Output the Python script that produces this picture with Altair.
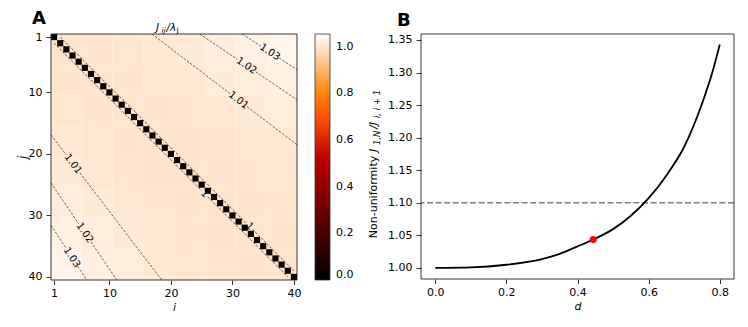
import altair as alt
import pandas as pd

FONT = "DejaVu Sans"

# ---------------- Panel A : J_ij / lambda_J ----------------
IJ_TICKS = [1, 10, 20, 30, 40]
BLOCK_SIZE = 5
# values read as 5x5-site blocks (rows: j-blocks top->bottom, cols: i-blocks left->right)
BLOCK_VALUES = [
    [1.0003, 1.0010, 1.0037, 1.0080, 1.0133, 1.0195, 1.0263, 1.0337],
    [1.0010, 1.0003, 1.0009, 1.0033, 1.0069, 1.0116, 1.0170, 1.0230],
    [1.0037, 1.0009, 1.0003, 1.0007, 1.0028, 1.0060, 1.0101, 1.0148],
    [1.0080, 1.0033, 1.0007, 1.0003, 1.0007, 1.0025, 1.0053, 1.0088],
    [1.0133, 1.0069, 1.0028, 1.0007, 1.0003, 1.0006, 1.0022, 1.0046],
    [1.0195, 1.0116, 1.0060, 1.0025, 1.0006, 1.0003, 1.0005, 1.0019],
    [1.0263, 1.0170, 1.0101, 1.0053, 1.0022, 1.0005, 1.0003, 1.0004],
    [1.0337, 1.0230, 1.0148, 1.0088, 1.0046, 1.0019, 1.0004, 1.0003],
]
DIAG_SITES = list(range(1, 41))
DIAG_VALUE = 0.0
COLOR_MAX = 1.054
CBAR_TICKS = [0.0, 0.2, 0.4, 0.6, 0.8, 1.0]

# contour polylines: (segment id, [(i, j), ...])
CONTOUR_SEGMENTS = [
    ("d_up_a", [(2, 1), (32.3, 31.3)]),
    ("d_up_b", [(33.3, 32.3), (40, 39)]),
    ("d_lo_a", [(1, 2), (25, 26)]),
    ("d_lo_b", [(26, 27), (39, 40)]),
    ("u101a", [(16.9, 0.5), (29.6, 10.19)]),
    ("u101b", [(32.4, 12.33), (40.5, 18.5)]),
    ("u102a", [(24.7, 0.5), (30.8, 4.63)]),
    ("u102b", [(33.8, 6.66), (40.5, 11.2)]),
    ("u103a", [(31.6, 0.5), (34.6, 2.46)]),
    ("u103b", [(37.6, 4.41), (40.5, 6.3)]),
    ("l101a", [(0.5, 16.9), (3.0, 20.18)]),
    ("l101b", [(5.2, 23.07), (18.5, 40.5)]),
    ("l102a", [(0.5, 24.7), (5.0, 31.34)]),
    ("l102b", [(7.0, 34.29), (11.2, 40.5)]),
    ("l103a", [(0.5, 31.6), (2.95, 35.36)]),
    ("l103b", [(4.85, 38.27), (6.3, 40.5)]),
]
CONTOUR_LABEL_TEXT = ["1", "1", "1.03", "1.02", "1.01", "1.01", "1.02", "1.03"]
CONTOUR_LABEL_I = [25.5, 32.8, 36.1, 32.3, 31.0, 4.1, 6.0, 3.9]
CONTOUR_LABEL_J = [26.5, 31.8, 3.43, 5.65, 11.26, 21.62, 32.82, 36.82]
CONTOUR_LABEL_ANGLE = [45, 45, 33, 34, 37.5, 53, 56, 57]

# ---------------- Panel B : non-uniformity vs d ----------------
D_VALUES = [0.0, 0.1, 0.2, 0.3, 0.35, 0.4, 0.444, 0.5, 0.55, 0.6, 0.65, 0.7, 0.75, 0.78, 0.8]
NONUNIFORMITY = [1.000, 1.0008, 1.0048, 1.0135, 1.0215, 1.033, 1.0434, 1.0595, 1.080,
                 1.107, 1.142, 1.186, 1.252, 1.302, 1.343]
MARK_D = [0.444]
MARK_V = [1.0434]
THRESHOLD = [1.10]
B_XTICKS = [0.0, 0.2, 0.4, 0.6, 0.8]
B_YTICKS = [1.00, 1.05, 1.10, 1.15, 1.20, 1.25, 1.30, 1.35]

WA, HA = 246, 246
WB, HB = 313, 245

# ---------- data tables ----------
rows = []
for by, row in enumerate(BLOCK_VALUES):
    for bx, v in enumerate(row):
        rows.append({"x0": bx * BLOCK_SIZE + 0.5, "x1": (bx + 1) * BLOCK_SIZE + 0.5,
                     "y0": by * BLOCK_SIZE + 0.5, "y1": (by + 1) * BLOCK_SIZE + 0.5, "val": v})
blocks_df = pd.DataFrame(rows)
diag_df = pd.DataFrame({"x0": [s - 0.5 for s in DIAG_SITES], "x1": [s + 0.5 for s in DIAG_SITES],
                        "y0": [s - 0.5 for s in DIAG_SITES], "y1": [s + 0.5 for s in DIAG_SITES],
                        "val": [DIAG_VALUE] * len(DIAG_SITES)})
cont_rows = []
for seg, pts in CONTOUR_SEGMENTS:
    for o, (ci, cj) in enumerate(pts):
        cont_rows.append({"seg": seg, "o": o, "x0": ci, "y0": cj})
cont_df = pd.DataFrame(cont_rows)
clab_df = pd.DataFrame({"t": CONTOUR_LABEL_TEXT, "x0": CONTOUR_LABEL_I, "y0": CONTOUR_LABEL_J,
                        "ang": CONTOUR_LABEL_ANGLE})
curve_df = pd.DataFrame({"d": D_VALUES, "v": NONUNIFORMITY})
mark_df = pd.DataFrame({"d": MARK_D, "v": MARK_V})
thr_df = pd.DataFrame({"v": THRESHOLD})


def txt(text, x, y, size=11, style="normal", weight="normal", angle=0, align="left",
        baseline="alphabetic"):
    kw = dict(text=text, font=FONT, fontSize=size, fontStyle=style, fontWeight=weight,
              align=align, baseline=baseline, color="black")
    if angle:
        kw["angle"] = angle
    return alt.Chart(alt.Data(values=[{}])).mark_text(**kw).encode(
        x=alt.value(x), y=alt.value(y))


def frame(w, h):
    return alt.Chart(alt.Data(values=[{}])).mark_rect(
        filled=False, stroke="#222222", strokeWidth=0.9).encode(
        x=alt.value(0), x2=alt.value(w), y=alt.value(0), y2=alt.value(h))


# ---------- panel A ----------
sx = alt.Scale(domain=[0.5, 40.5], nice=False, zero=False)
sy = alt.Scale(domain=[0.5, 40.5], nice=False, zero=False, reverse=True)
axx = alt.Axis(values=IJ_TICKS, title="i", titlePadding=3, tickSize=4.5, labelPadding=3,
               titleFontSize=11)
axy = alt.Axis(values=IJ_TICKS, title="j", titlePadding=0)
cscale = alt.Scale(domain=[0, 0.527, 0.7027, 0.7905, COLOR_MAX],
                   range=["#000000", "#bf0000", "#ff5500", "#ff8000", "#ffffff"],
                   interpolate="rgb")
legend = alt.Legend(title=None, values=CBAR_TICKS, format=".1f", gradientLength=HA,
                    gradientThickness=15, offset=16, labelOffset=6, labelBaseline="middle",
                    gradientStrokeColor="#333333", gradientStrokeWidth=0.8, labelFontSize=11,
                    labelFont=FONT, labelColor="black", direction="vertical", orient="right",
                    type="gradient")

X = alt.X("x0:Q", scale=sx, axis=axx)
Y = alt.Y("y0:Q", scale=sy, axis=axy)
C = alt.Color("val:Q", scale=cscale, legend=legend)

blocks = alt.Chart(blocks_df).mark_rect().encode(x=X, x2="x1:Q", y=Y, y2="y1:Q", color=C)
diag = alt.Chart(diag_df).mark_rect().encode(x=X, x2="x1:Q", y=Y, y2="y1:Q", color=C)
contours = alt.Chart(cont_df).mark_line(color="black", strokeWidth=0.6,
                                        strokeDash=[2.5, 1.5]).encode(
    x=X, y=Y, detail="seg:N", order="o:Q")
clabels = alt.Chart(clab_df).mark_text(font=FONT, fontSize=10, color="black",
                                       align="center", baseline="middle").encode(
    x=X, y=Y, text="t:N", angle=alt.Angle("ang:Q", scale=None))

panelA = alt.layer(
    blocks, diag, contours, clabels, frame(WA, HA),
    txt("A", -19, -24, size=18, weight="bold", baseline="top"),
    txt("J", 105, -3.3, size=10.5, style="italic"),
    txt("ij", 110.5, -1, size=7.5, style="italic"),
    txt("/λ", 115.5, -3.3, size=10.5, style="italic"),
    txt("J", 125.5, -1, size=7.5),
).properties(width=WA, height=HA)

# ---------- panel B ----------
sxb = alt.Scale(domain=[-0.04, 0.84], nice=False, zero=False)
syb = alt.Scale(domain=[0.9829, 1.3592], nice=False, zero=False)
XB = alt.X("d:Q", scale=sxb, axis=alt.Axis(values=B_XTICKS, format=".1f", title="d",
                                            titlePadding=3, tickSize=4.5, labelPadding=3,
                                            titleFontSize=11))
YB = alt.Y("v:Q", scale=syb, axis=alt.Axis(values=B_YTICKS, format=".2f", title=None))

thr = alt.Chart(thr_df).mark_rule(color="#808080", strokeWidth=1.5,
                                  strokeDash=[6, 2.6]).encode(y=YB)
curve = alt.Chart(curve_df).mark_line(color="black", strokeWidth=1.8,
                                      interpolate="monotone").encode(x=XB, y=YB)
dot = alt.Chart(mark_df).mark_circle(color="red", size=50, opacity=1).encode(x=XB, y=YB)

panelB = alt.layer(
    thr, curve, dot, frame(WB, HB),
    txt("B", -24, -22, size=18, weight="bold", baseline="top"),
    txt("Non-uniformity", -44, 163, angle=270, align="center"),
    txt("J", -44, 118, size=11, style="italic", angle=270),
    txt("1,N", -41.5, 111, size=8.5, style="italic", angle=270),
    txt("/J", -44, 95, size=11, style="italic", angle=270),
    txt("i, i + 1", -41.5, 84, size=8.5, style="italic", angle=270),
).properties(width=WB, height=HB)

chart = alt.hconcat(panelA, panelB, spacing=12).resolve_scale(
    color="independent").resolve_legend(color="independent").configure(
    padding={"left": 8, "top": 1, "right": 2, "bottom": 0}
).configure_view(stroke="transparent").configure_axis(
    labelFont=FONT, labelFontSize=11, labelColor="black", tickColor="black",
    tickSize=5, tickWidth=0.8, labelPadding=4, domain=False, grid=False,
    titleFont=FONT, titleFontSize=11.5, titleFontStyle="italic", titleFontWeight="normal",
    titleColor="black")

chart.save("out.html", embed_options={"renderer": "svg", "actions": False})
